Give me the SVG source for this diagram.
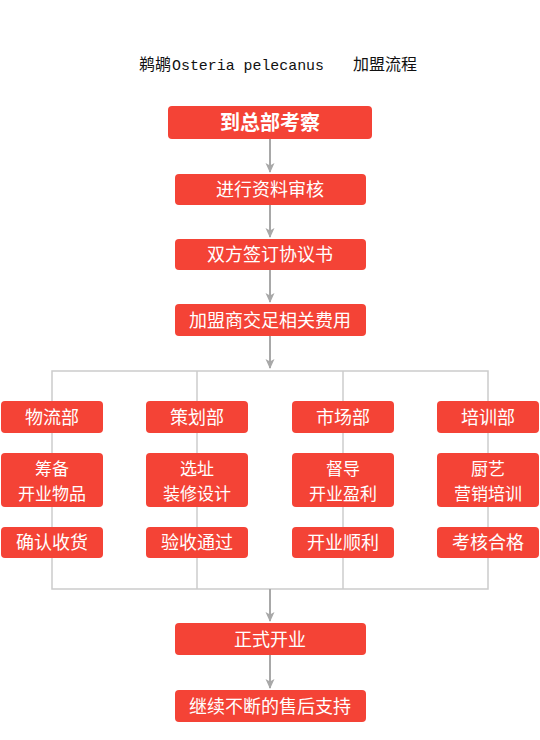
<svg xmlns="http://www.w3.org/2000/svg" width="540" height="740" viewBox="0 0 540 740">
<style>
.box{fill:#f44336;}
.t{fill:#ffffff;font-family:"Noto Sans CJK SC","Noto Sans",sans-serif;font-size:18px;text-anchor:middle;}
.t2{font-size:17px;}
.tb{font-weight:bold;font-size:20px;}
.arr{stroke:#a8a8a8;stroke-width:2;fill:none;}
.ln{stroke:#cccccc;stroke-width:1.5;fill:none;}
.cjk{font-family:"Noto Sans CJK SC",sans-serif;font-size:16px;fill:#111;}
.mono{font-family:"Liberation Mono",monospace;font-size:15px;fill:#111;}
</style>
<defs>
<marker id="ah" markerWidth="10" markerHeight="10" refX="9" refY="5" orient="auto" markerUnits="userSpaceOnUse">
<path d="M0,0.5 L10,5 L0,9.5 L2.5,5 z" fill="#a8a8a8"/>
</marker>
</defs>
<rect width="540" height="740" fill="#ffffff"/>
<g id="title">
<text x="139" y="70" class="cjk">鹈鹕</text>
<text x="172" y="70" class="mono" textLength="152" lengthAdjust="spacingAndGlyphs">Osteria pelecanus</text>
<text x="353" y="70" class="cjk">加盟流程</text>
</g>
<g id="connectors">
<line class="arr" x1="270" y1="139" x2="270" y2="172" marker-end="url(#ah)"/>
<line class="arr" x1="270" y1="205" x2="270" y2="237" marker-end="url(#ah)"/>
<line class="arr" x1="270" y1="270" x2="270" y2="302" marker-end="url(#ah)"/>
<line class="arr" x1="270" y1="336" x2="270" y2="368" marker-end="url(#ah)"/>
<polyline class="ln" points="52,401 52,371 488,371 488,401"/>
<line class="ln" x1="197" y1="371" x2="197" y2="401"/>
<line class="ln" x1="343" y1="371" x2="343" y2="401"/>
<line class="ln" x1="52" y1="433" x2="52" y2="453"/>
<line class="ln" x1="197" y1="433" x2="197" y2="453"/>
<line class="ln" x1="343" y1="433" x2="343" y2="453"/>
<line class="ln" x1="488" y1="433" x2="488" y2="453"/>
<line class="ln" x1="52" y1="507" x2="52" y2="527"/>
<line class="ln" x1="197" y1="507" x2="197" y2="527"/>
<line class="ln" x1="343" y1="507" x2="343" y2="527"/>
<line class="ln" x1="488" y1="507" x2="488" y2="527"/>
<polyline class="ln" points="52,558 52,589 488,589 488,558"/>
<line class="ln" x1="197" y1="558" x2="197" y2="589"/>
<line class="ln" x1="343" y1="558" x2="343" y2="589"/>
<line class="arr" x1="270" y1="589" x2="270" y2="621" marker-end="url(#ah)"/>
<line class="arr" x1="270" y1="655" x2="270" y2="688" marker-end="url(#ah)"/>
</g>
<g id="n1"><rect class="box" x="168" y="106" width="204" height="33" rx="4"/><text class="t tb" x="270" y="129.5">到总部考察</text></g>
<g id="n2"><rect class="box" x="175" y="174" width="191" height="31" rx="4"/><text class="t" x="270" y="196">进行资料审核</text></g>
<g id="n3"><rect class="box" x="175" y="239" width="191" height="31" rx="4"/><text class="t" x="270" y="261">双方签订协议书</text></g>
<g id="n4"><rect class="box" x="175" y="304" width="191" height="32" rx="4"/><text class="t" x="270" y="326.5">加盟商交足相关费用</text></g>
<g id="c1a"><rect class="box" x="1" y="401" width="102" height="32" rx="4"/><text class="t" x="52" y="423.5">物流部</text></g>
<g id="c2a"><rect class="box" x="146" y="401" width="102" height="32" rx="4"/><text class="t" x="197" y="423.5">策划部</text></g>
<g id="c3a"><rect class="box" x="292" y="401" width="102" height="32" rx="4"/><text class="t" x="343" y="423.5">市场部</text></g>
<g id="c4a"><rect class="box" x="437" y="401" width="102" height="32" rx="4"/><text class="t" x="488" y="423.5">培训部</text></g>
<g id="c1b"><rect class="box" x="1" y="453" width="102" height="54" rx="4"/><text class="t t2" x="52" y="475">筹备</text><text class="t t2" x="52" y="500">开业物品</text></g>
<g id="c2b"><rect class="box" x="146" y="453" width="102" height="54" rx="4"/><text class="t t2" x="197" y="475">选址</text><text class="t t2" x="197" y="500">装修设计</text></g>
<g id="c3b"><rect class="box" x="292" y="453" width="102" height="54" rx="4"/><text class="t t2" x="343" y="475">督导</text><text class="t t2" x="343" y="500">开业盈利</text></g>
<g id="c4b"><rect class="box" x="437" y="453" width="102" height="54" rx="4"/><text class="t t2" x="488" y="475">厨艺</text><text class="t t2" x="488" y="500">营销培训</text></g>
<g id="c1c"><rect class="box" x="1" y="527" width="102" height="31" rx="4"/><text class="t" x="52" y="549">确认收货</text></g>
<g id="c2c"><rect class="box" x="146" y="527" width="102" height="31" rx="4"/><text class="t" x="197" y="549">验收通过</text></g>
<g id="c3c"><rect class="box" x="292" y="527" width="102" height="31" rx="4"/><text class="t" x="343" y="549">开业顺利</text></g>
<g id="c4c"><rect class="box" x="437" y="527" width="102" height="31" rx="4"/><text class="t" x="488" y="549">考核合格</text></g>
<g id="n5"><rect class="box" x="175" y="623" width="191" height="32" rx="4"/><text class="t" x="270" y="645.5">正式开业</text></g>
<g id="n6"><rect class="box" x="175" y="690" width="191" height="32" rx="4"/><text class="t" x="270" y="712.5">继续不断的售后支持</text></g>
</svg>
